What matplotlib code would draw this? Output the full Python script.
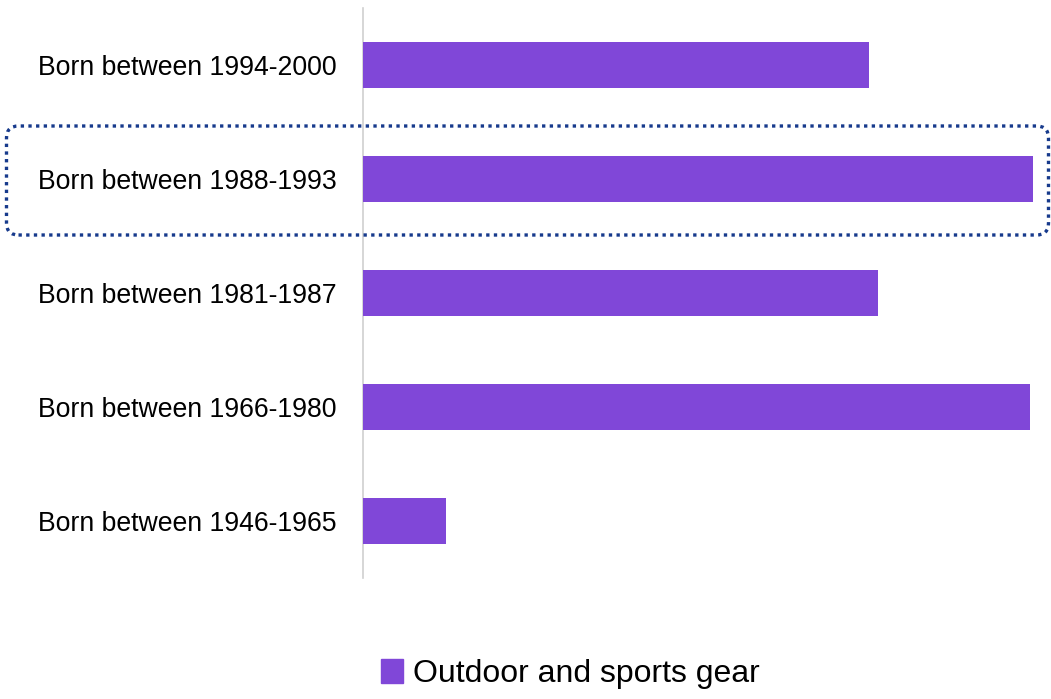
import matplotlib

matplotlib.use("Agg")
import matplotlib.pyplot as plt
from matplotlib.patches import FancyBboxPatch

# data, top to bottom as shown
categories = [
    "Born between 1994-2000",
    "Born between 1988-1993",
    "Born between 1981-1987",
    "Born between 1966-1980",
    "Born between 1946-1965",
]
values = [506, 670, 515, 667, 83]
series_name = "Outdoor and sports gear"

BAR_COLOR = "#8047D8"
BOX_COLOR = "#173A8C"

plt.rcParams["font.family"] = ["Liberation Sans", "DejaVu Sans"]

W, H = 1051, 699
fig = plt.figure(figsize=(W / 100, H / 100), dpi=100)
ax = fig.add_axes([363 / W, 1 - 578 / H, (1043 - 363) / W, (578 - 8) / H])

pos = list(range(len(categories)))
ax.barh(pos, values, height=0.40, color=BAR_COLOR, zorder=3)
ax.set_ylim(len(categories) - 0.5, -0.5)
ax.set_xlim(0, 680)
ax.set_yticks(pos)
ax.set_yticklabels(categories, fontsize=19.2, color="black")
ax.tick_params(axis="y", length=0, pad=19)
ax.set_xticks([])
for side in ["top", "right", "bottom"]:
    ax.spines[side].set_visible(False)
ax.spines["left"].set_color("#D0D0D0")
ax.spines["left"].set_linewidth(1.2)

# dotted highlight around the 1988-1993 row
box = FancyBboxPatch(
    (0.065, 4.64), 10.42, 1.09,
    boxstyle="round,pad=0,rounding_size=0.12",
    transform=fig.dpi_scale_trans,
    fill=False, edgecolor=BOX_COLOR, linewidth=2.4,
    linestyle=(0, (1, 1.3)), capstyle="butt", zorder=5,
)
fig.patches.append(box)

fig.legend(
    [plt.Rectangle((0, 0), 1, 1, color=BAR_COLOR)], [series_name],
    loc="center", bbox_to_anchor=(570 / W, 1 - 674 / H),
    frameon=False, fontsize=23, handlelength=0.7, handleheight=0.75,
    handletextpad=0.3,
)

fig.savefig("out.png", dpi=100)
